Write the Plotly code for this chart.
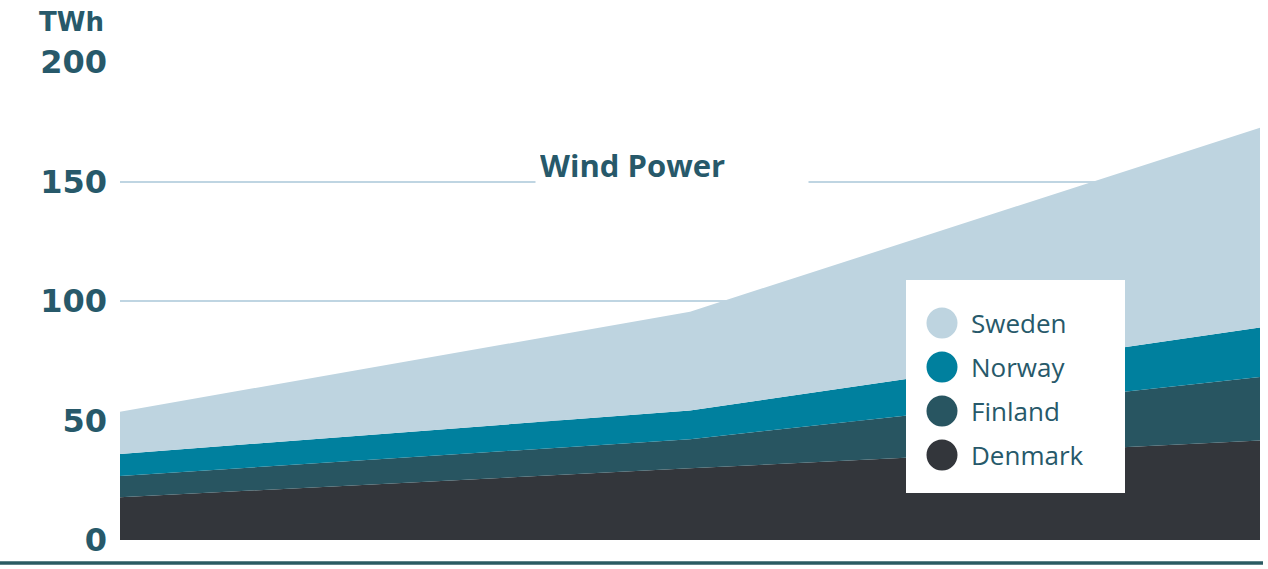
import plotly.graph_objects as go

# Wind power production, TWh, stacked by country
years = [2020, 2030, 2040]
countries = ["Denmark", "Finland", "Norway", "Sweden"]
denmark = [17.9, 30.0, 41.6]
finland = [8.9, 12.2, 26.6]
norway = [9.2, 12.0, 20.7]
sweden = [17.7, 41.3, 83.6]
colors = ["#33363b", "#285561", "#00809e", "#bed4e0"]
y_ticks = [0, 50, 100, 150, 200]

series = [denmark, finland, norway, sweden]
TEXT = "#27596a"

fig = go.Figure()
for name, vals, col in zip(countries, series, colors):
    fig.add_trace(go.Scatter(
        x=years, y=vals, name=name, mode="lines",
        stackgroup="wind", line=dict(width=0, color=col),
        fillcolor=col, showlegend=False, hoverinfo="x+y+name",
    ))

fig.update_layout(
    width=1268, height=569,
    margin=dict(l=120, r=8, t=62, b=29),
    paper_bgcolor="white", plot_bgcolor="white",
    showlegend=False,
    xaxis=dict(range=[years[0], years[-1]], showgrid=False, showticklabels=False,
               zeroline=False, showline=False, ticks=""),
    yaxis=dict(range=[0, 200], tickvals=y_ticks, ticktext=[str(v) for v in y_ticks],
               showgrid=True, gridcolor="#bfd5e2", gridwidth=1.5, zeroline=False,
               showline=False, ticks="", ticklabelstandoff=12,
               tickfont=dict(family="DejaVu Sans", size=32, color=TEXT, weight="bold")),
)

# unit label above the axis
fig.add_annotation(xref="paper", yref="paper", x=-0.012, y=1.0, yshift=40,
                   xanchor="right", yanchor="middle", showarrow=False,
                   text="TWh", font=dict(family="DejaVu Sans", size=26, color=TEXT, weight="bold"))

# chart title on a white panel that interrupts the grid
fig.add_annotation(xref="paper", yref="paper", x=(535 - 120) / 1140, y=(540 - 165) / 478,
                   xanchor="left", yanchor="middle", showarrow=False, align="left",
                   width=264, bgcolor="white", borderpad=4,
                   text="<b>Wind Power</b>",
                   font=dict(family="Open Sans", size=31, color=TEXT))

# baseline rule under the chart
fig.add_shape(type="line", xref="paper", yref="paper",
              x0=-120 / 1140, x1=(1263 - 120) / 1140,
              y0=-(563 - 540) / 478, y1=-(563 - 540) / 478,
              line=dict(color="#2b5a62", width=3.5))

# legend panel with round swatches
def px_x(p):
    return (p - 120) / 1140

def px_y(p):
    return (540 - p) / 478

fig.add_shape(type="rect", xref="paper", yref="paper",
              x0=px_x(906), x1=px_x(1125), y0=px_y(493), y1=px_y(280),
              fillcolor="white", line=dict(width=0), layer="above")

row_y = [323, 367, 411, 455]
legend_order = list(zip(countries, colors))[::-1]
for (name, col), ry in zip(legend_order, row_y):
    fig.add_shape(type="circle", xref="paper", yref="paper",
                  x0=px_x(942 - 15.5), x1=px_x(942 + 15.5),
                  y0=px_y(ry + 15.5), y1=px_y(ry - 15.5),
                  fillcolor=col, line=dict(width=0), layer="above")
    fig.add_annotation(xref="paper", yref="paper", x=px_x(969), y=px_y(ry),
                       xanchor="left", yanchor="middle", showarrow=False,
                       text=name, font=dict(family="Open Sans", size=26, color=TEXT))

fig.write_html("out.html")
